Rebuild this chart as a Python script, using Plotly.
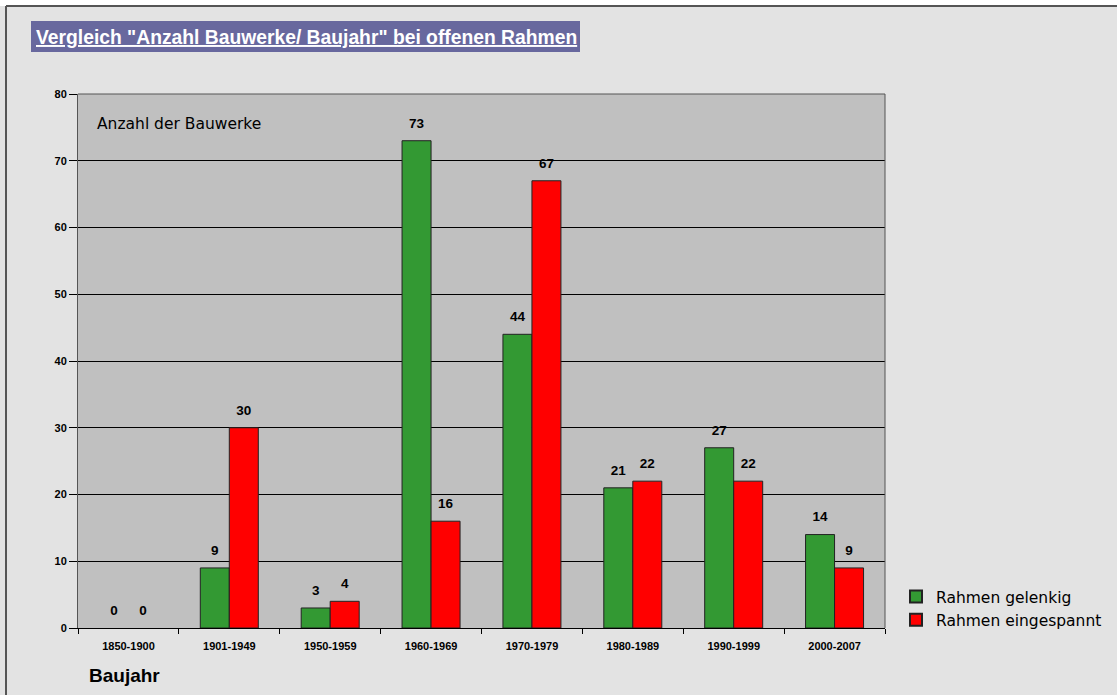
import plotly.graph_objects as go

categories = ["1850-1900", "1901-1949", "1950-1959", "1960-1969", "1970-1979", "1980-1989", "1990-1999", "2000-2007"]
gelenkig = [0, 9, 3, 73, 44, 21, 27, 14]
eingespannt = [0, 30, 4, 16, 67, 22, 22, 9]
y_ticks = [0, 10, 20, 30, 40, 50, 60, 70, 80]

W, H = 1117, 695
L, R, T, B = 78, 885, 94, 628

def px(x):
    return (x - L) / (R - L)

def py(y):
    return (B - y) / (B - T)

lbl_font = dict(family="Arial, Liberation Sans", size=13.5, color="#000000", weight="bold")

fig = go.Figure()
fig.add_trace(go.Bar(
    x=categories, y=gelenkig, name="Rahmen gelenkig", offsetgroup="g",
    marker=dict(color="#339933", line=dict(color="#222222", width=[1 if v else 0 for v in gelenkig])),
    hoverinfo="x+y",
))
fig.add_trace(go.Bar(
    x=categories, y=eingespannt, name="Rahmen eingespannt", offsetgroup="e",
    marker=dict(color="#ff0000", line=dict(color="#222222", width=[1 if v else 0 for v in eingespannt])),
    hoverinfo="x+y",
))
for vals, grp in ((gelenkig, "g"), (eingespannt, "e")):
    fig.add_trace(go.Scatter(
        x=categories, y=vals, offsetgroup=grp, mode="markers+text",
        text=[str(v) for v in vals], textposition="top center", textfont=lbl_font,
        marker=dict(size=14, color="rgba(0,0,0,0)"),
        showlegend=False, hoverinfo="skip", cliponaxis=False,
    ))

fig.update_layout(
    width=W, height=H,
    margin=dict(l=L, r=W - R, t=T, b=H - B, pad=0, autoexpand=False),
    paper_bgcolor="#e3e3e3",
    plot_bgcolor="#c0c0c0",
    barmode="group",
    bargap=0.425,
    bargroupgap=0,
    scattermode="group",
    scattergap=0.425,
    showlegend=True,
    legend=dict(
        x=px(896), y=py(580), xanchor="left", yanchor="top",
        bgcolor="rgba(0,0,0,0)",
        font=dict(family="DejaVu Sans", size=15.5, color="#000000"),
        itemsizing="constant", traceorder="normal",
    ),
    xaxis=dict(
        type="category",
        range=[-0.5, len(categories) - 0.5],
        tickfont=dict(family="Arial, Liberation Sans", size=11, color="#000000", weight="bold"),
        ticks="outside", ticklen=5, tickcolor="#000000",
        tickson="boundaries", ticklabelstandoff=8,
        showline=True, linecolor="#000000", linewidth=1,
        showgrid=False,
    ),
    yaxis=dict(
        range=[0, 80],
        tickvals=y_ticks,
        tickfont=dict(family="Arial, Liberation Sans", size=11, color="#000000", weight="bold"),
        ticks="outside", ticklen=8, tickcolor="#000000",
        showline=True, linecolor="#555555", linewidth=1,
        showgrid=True, gridcolor="#000000", gridwidth=1,
        zeroline=False,
    ),
    shapes=[
        dict(type="rect", xref="paper", yref="paper", x0=px(0), x1=px(W), y0=py(0), y1=py(6),
             fillcolor="#ffffff", line=dict(width=0), layer="below"),
        dict(type="line", xref="paper", yref="paper", x0=px(6), x1=px(W), y0=py(6), y1=py(6),
             line=dict(color="#555555", width=2)),
        dict(type="line", xref="paper", yref="paper", x0=px(6), x1=px(6), y0=py(6), y1=py(H),
             line=dict(color="#555555", width=2)),
        dict(type="rect", xref="paper", yref="paper", x0=px(31), x1=px(580), y0=py(52), y1=py(21),
             fillcolor="#68689e", line=dict(width=0)),
        dict(type="line", xref="paper", yref="paper", x0=1, x1=1, y0=0, y1=1,
             line=dict(color="#555555", width=1)),
        dict(type="line", xref="paper", yref="paper", x0=0, x1=1, y0=1, y1=1,
             line=dict(color="#555555", width=1)),
    ],
    annotations=[
        dict(text="<u>Vergleich \"Anzahl Bauwerke/ Baujahr\" bei offenen Rahmen</u>",
             xref="paper", yref="paper", x=px(34), y=py(37), xanchor="left", yanchor="middle",
             showarrow=False,
             font=dict(family="Arial, Liberation Sans", size=19.3, color="#ffffff", weight="bold")),
        dict(text="Anzahl der Bauwerke", xref="paper", yref="paper", x=px(95), y=py(124),
             xanchor="left", yanchor="middle", showarrow=False,
             font=dict(family="DejaVu Sans", size=15.5, color="#000000")),
        dict(text="Baujahr", xref="paper", yref="paper", x=px(87), y=py(675),
             xanchor="left", yanchor="middle", showarrow=False,
             font=dict(family="Arial, Liberation Sans", size=19, color="#000000", weight="bold")),
    ],
)

fig.write_html("out.html")
